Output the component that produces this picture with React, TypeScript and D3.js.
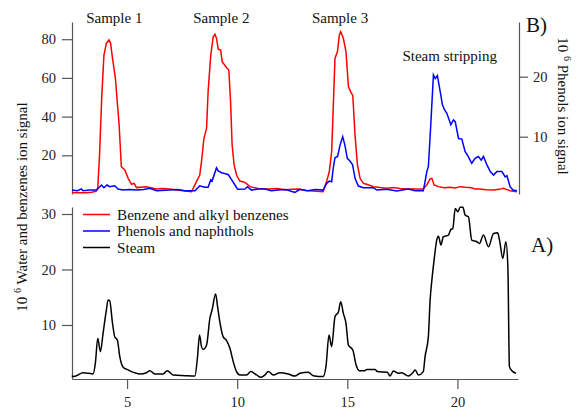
import * as d3 from "d3";
import { useEffect, useRef } from "react";

// [time, signal]
const benzenes: [number, number][] = [
  [2.5, 0.8], [2.8, 0.6], [3.1, 0.7], [3.4, 0.9], [3.6, 1.5], [3.67, 3], [3.75, 20], [3.85, 50],
  [3.95, 71.8], [4.06, 77.9], [4.18, 79.6], [4.25, 78], [4.34, 70.1], [4.47, 59.8], [4.64, 35.7],
  [4.74, 14.1], [4.9, 12.4], [5.05, 8.1], [5.2, 5.0], [5.32, 5.5], [5.43, 3.3], [5.88, 3.8],
  [6.34, 2.6], [6.6, 2.9], [6.94, 2.6], [7.25, 2.1], [7.55, 1.7], [7.93, 1.2], [8.15, 6.4], [8.3, 9.8],
  [8.38, 16.7], [8.49, 28.8], [8.61, 34], [8.68, 52.9], [8.8, 71.8], [8.91, 81.3], [8.99, 82.5],
  [9.06, 80.5], [9.14, 74.9], [9.25, 74.4], [9.32, 68.4], [9.52, 65.3], [9.62, 64.1], [9.7, 47.7],
  [9.77, 25.3], [9.86, 15], [9.97, 9.8], [10.12, 6.7], [10.35, 6], [10.58, 3.8], [10.95, 2.9],
  [11.41, 2.6], [11.8, 2.9], [12.17, 2.2], [12.5, 2.4], [12.77, 2.6], [13.1, 1.8], [13.45, 1.5], [13.9, 1.2],
  [14.06, 6.4], [14.18, 11.5], [14.29, 21.9], [14.36, 44.3], [14.44, 70.1], [14.55, 73.5],
  [14.64, 82.2], [14.7, 83.9], [14.82, 80.5], [14.94, 73.5], [15.05, 55.5], [15.15, 52.9],
  [15.25, 50.8], [15.35, 30.5], [15.46, 15], [15.58, 8.1], [15.73, 5.5], [15.88, 5], [16.18, 3.8],
  [16.49, 3.3], [16.8, 3.0], [17.09, 3.3], [17.4, 2.8], [17.7, 2.6], [18.08, 2.6], [18.45, 2.6], [18.61, 4.7],
  [18.76, 7.8], [18.84, 8.1], [18.94, 4.7], [19.14, 3.8], [19.4, 3.2], [19.67, 3.5], [19.9, 3.1], [20.12, 3.8],
  [20.35, 3.5], [20.58, 3.3], [20.8, 2.6], [21.03, 2.6], [21.3, 2.2], [21.64, 2.1], [21.9, 2.4], [22.09, 2.9],
  [22.39, 1.7], [22.7, 1.2],
];

const phenols: [number, number][] = [
  [2.5, 1.1], [2.75, 1.0], [2.93, 1.3], [3.0, 1.0], [3.3, 1.1], [3.61, 1.1], [3.84, 1.95],
  [3.95, 1.5], [4.09, 1.95], [4.21, 1.67], [4.44, 1.83], [4.59, 1.28], [4.82, 1.1], [5.1, 1.2],
  [5.43, 1.1], [5.75, 1.2], [6.03, 1.4], [6.34, 1.0], [6.94, 1.1], [7.3, 1.2], [7.62, 1.0],
  [8.08, 1.0], [8.3, 1.8], [8.53, 1.57], [8.68, 1.57], [8.8, 2.8], [8.86, 2.6], [9.06, 4.8],
  [9.14, 4.3], [9.29, 4.0], [9.59, 3.7], [9.75, 2.8], [9.9, 1.95], [10.02, 1.23], [10.35, 1.28],
  [10.47, 1.67], [10.65, 1.1], [10.95, 1.3], [11.26, 1.28], [11.55, 1.0], [11.86, 1.1],
  [12.2, 1.2], [12.62, 0.72], [12.85, 1.23], [13.2, 1.0], [13.55, 1.2], [13.9, 1.1], [14.06, 2.2],
  [14.18, 2.6], [14.29, 2.5], [14.36, 4.7], [14.44, 6.5], [14.56, 6.7], [14.67, 8.6], [14.79, 10],
  [14.89, 8.6], [15.0, 6.4], [15.12, 5.95], [15.24, 5.3], [15.35, 3.07], [15.5, 1.78],
  [15.73, 1.5], [16.18, 1.5], [16.34, 1.1], [16.79, 1.23], [17.25, 0.95], [17.5, 1.1],
  [17.77, 1.28], [18.08, 1.0], [18.45, 1.0], [18.53, 2.5], [18.61, 4.2], [18.68, 5], [18.79, 12],
  [18.91, 20.3], [18.99, 19.7], [19.09, 20.2], [19.18, 18.3], [19.32, 15.3], [19.41, 14.5],
  [19.52, 13.9], [19.7, 12], [19.82, 12.8], [19.9, 12.5], [20.05, 9.7], [20.2, 9.6], [20.35, 7.5],
  [20.45, 6.95], [20.65, 5.57], [20.8, 6.4], [20.95, 6.7], [21.08, 6.1], [21.18, 6.7],
  [21.34, 5.3], [21.49, 4.2], [21.64, 3.6], [21.79, 4.2], [22.02, 4.2], [22.17, 3.3],
  [22.25, 3.5], [22.39, 1.67], [22.52, 1.1], [22.7, 1.0],
];

const steam: [number, number][] = [
  [2.5, 0.9], [2.55, 0.7], [2.7, 0.87], [3.0, 1.4], [3.25, 1.3], [3.45, 1.17], [3.56, 3.1],
  [3.67, 7.6], [3.79, 5.2], [3.91, 8.5], [4.06, 12.7], [4.14, 14.5], [4.21, 14.4], [4.34, 10.3],
  [4.44, 7.9], [4.56, 7.3], [4.67, 4.3], [4.82, 2.4], [5.05, 1.9], [5.2, 1.6], [5.35, 1.4],
  [5.58, 1.17], [5.88, 1.4], [6.03, 1.77], [6.26, 1.17], [6.64, 1.17], [6.82, 1.77], [7.09, 1.0],
  [7.62, 0.87], [8.08, 0.8], [8.2, 4.3], [8.29, 8.2], [8.38, 6.1], [8.45, 5.6], [8.61, 6.4],
  [8.76, 11.2], [8.86, 12.7], [9.02, 15.6], [9.11, 13.3], [9.21, 10.6], [9.36, 7.9], [9.52, 7.2],
  [9.67, 5.8], [9.82, 3.4], [9.97, 1.6], [10.12, 1.0], [10.43, 1.0], [10.62, 1.6], [10.88, 1.0],
  [11.08, 0.58], [11.26, 1.0], [11.41, 1.6], [11.64, 1.0], [11.94, 1.4], [12.32, 1.17],
  [12.62, 0.8], [12.85, 1.3], [13.23, 1.5], [13.45, 0.87], [13.9, 0.7], [14.03, 2.5], [14.17, 8.2],
  [14.29, 6.1], [14.44, 11.5], [14.6, 12.4], [14.7, 14.2], [14.82, 12.1], [14.94, 10.3],
  [15.05, 6.4], [15.25, 5.5], [15.4, 2.8], [15.55, 1.77], [15.8, 1.77], [15.88, 2.0], [16.26, 2.0],
  [16.36, 1.6], [16.82, 1.5], [16.94, 0.8], [17.09, 1.7], [17.32, 1.3], [17.47, 1.4], [17.77, 0.8],
  [17.95, 1.3], [18.08, 1.9], [18.23, 1.0], [18.45, 1.6], [18.53, 4.3], [18.68, 7.9], [18.76, 14.5],
  [18.84, 18.1], [18.94, 21.7], [19.06, 25.3], [19.14, 26], [19.25, 24.4], [19.36, 25.9],
  [19.59, 26.2], [19.7, 27.2], [19.79, 27.4], [19.9, 31], [20.02, 30.4], [20.12, 31.2],
  [20.25, 31.2], [20.35, 29.8], [20.5, 29.5], [20.65, 25.3], [20.88, 25], [21.0, 24.7],
  [21.18, 26.2], [21.41, 24.1], [21.64, 26.5], [21.82, 26.6], [21.91, 25.3], [22.06, 22],
  [22.2, 25], [22.29, 20.5], [22.36, 2.5], [22.47, 1.77], [22.66, 1.3],
];

const xTicks = [5, 10, 15, 20];
const benzeneTicks = [20, 40, 60, 80];
const phenolTicks = [10, 20];
const steamTicks = [10, 20, 30];

const sampleLabels = [
  { name: "Sample 1", at: 4.42 },
  { name: "Sample 2", at: 9.28 },
  { name: "Sample 3", at: 14.67 },
];

const legendItems = [
  { name: "Benzene and alkyl benzenes", color: "#ff0000" },
  { name: "Phenols and naphthols", color: "#0000ff" },
  { name: "Steam", color: "#000000" },
];

const W = 578;
const H = 411;
const FONT = "Liberation Serif, Times New Roman, serif";

export default function App() {
  const svgRef = useRef<SVGSVGElement | null>(null);

  useEffect(() => {
    const svgEl = d3.select(svgRef.current);
    svgEl.selectAll("*").remove();
    const svg = svgEl.append("g").style("font-family", FONT);

    const x = d3.scaleLinear().domain([2.5, 22.75]).range([72, 518]);
    // top panel (B)
    const yB = d3.scaleLinear().domain([0, 88.9]).range([194, 22]);
    const yP = d3.scaleLinear().domain([0.45, 29.12]).range([194, 22]);
    // bottom panel (A)
    const yA = d3.scaleLinear().domain([0.27, 31.26]).range([379, 207]);

    const styleAxis = (g: any) => {
      g.attr("font-family", null).style("font-family", FONT);
      g.selectAll("path, line").attr("stroke", "#555").attr("stroke-width", 1.2);
      g.selectAll("text")
        .style("font-family", FONT)
        .attr("font-size", 14.5)
        .attr("fill", "#222");
    };

    // left axis top
    svg.append("g")
      .attr("transform", "translate(72,0)")
      .call(d3.axisLeft(yB).tickValues(benzeneTicks).tickSize(10).tickPadding(6).tickSizeOuter(0))
      .call(styleAxis);

    // right axis top
    svg.append("g")
      .attr("transform", "translate(519,0)")
      .call(d3.axisRight(yP).tickValues(phenolTicks).tickSize(9).tickPadding(5).tickSizeOuter(0))
      .call(styleAxis);

    // left axis bottom
    svg.append("g")
      .attr("transform", "translate(72,0)")
      .call(d3.axisLeft(yA).tickValues(steamTicks).tickSize(10).tickPadding(6).tickSizeOuter(0))
      .call(styleAxis);

    // x axis
    svg.append("g")
      .attr("transform", "translate(0,379)")
      .call(d3.axisBottom(x).tickValues(xTicks).tickFormat(d3.format("d")).tickSize(10).tickPadding(8).tickSizeOuter(0))
      .call(styleAxis);

    const lineB = d3.line<[number, number]>().x((d) => x(d[0])).y((d) => yB(d[1]));
    const lineP = d3.line<[number, number]>().x((d) => x(d[0])).y((d) => yP(d[1]));
    const lineA = d3.line<[number, number]>()
      .x((d) => x(d[0]))
      .y((d) => yA(d[1]))
      .curve(d3.curveMonotoneX);

    svg.append("path").datum(benzenes).attr("d", lineB)
      .attr("fill", "none").attr("stroke", "#ff0000").attr("stroke-width", 1.5);
    svg.append("path").datum(phenols).attr("d", lineP)
      .attr("fill", "none").attr("stroke", "#0000ff").attr("stroke-width", 1.5);
    svg.append("path").datum(steam).attr("d", lineA)
      .attr("fill", "none").attr("stroke", "#000").attr("stroke-width", 1.5);

    // sample labels
    svg.selectAll(".sample")
      .data(sampleLabels)
      .enter()
      .append("text")
      .attr("x", (d) => x(d.at))
      .attr("y", 23)
      .attr("text-anchor", "middle")
      .attr("font-size", 15)
      .attr("fill", "#111")
      .text((d) => d.name);

    svg.append("text")
      .attr("x", x(19.65))
      .attr("y", 61)
      .attr("text-anchor", "middle")
      .attr("font-size", 15)
      .attr("fill", "#111")
      .text("Steam stripping");

    svg.append("text").attr("x", 526).attr("y", 32).attr("font-size", 21).attr("fill", "#111").text("B)");
    svg.append("text").attr("x", 531).attr("y", 252).attr("font-size", 21).attr("fill", "#111").text("A)");

    // legend
    const leg = svg.append("g");
    legendItems.forEach((d, i) => {
      const yy = 214.5 + i * 16.5;
      leg.append("line")
        .attr("x1", 83).attr("x2", 110).attr("y1", yy).attr("y2", yy)
        .attr("stroke", d.color).attr("stroke-width", 1.5);
      leg.append("text")
        .attr("x", 117).attr("y", yy + 5)
        .attr("font-size", 15.2).attr("fill", "#111")
        .text(d.name);
    });

    // axis titles
    const leftTitle = svg.append("text")
      .attr("transform", "translate(27,207) rotate(-90)")
      .attr("text-anchor", "middle")
      .attr("font-size", 15)
      .attr("fill", "#111");
    leftTitle.append("tspan").text("10 ");
    leftTitle.append("tspan").attr("dy", -6).attr("font-size", 10).text("6");
    leftTitle.append("tspan").attr("dy", 6).text(" Water and benzenes ion signal");

    const rightTitle = svg.append("text")
      .attr("transform", "translate(558,106) rotate(90)")
      .attr("text-anchor", "middle")
      .attr("font-size", 15)
      .attr("fill", "#111");
    rightTitle.append("tspan").text("10 ");
    rightTitle.append("tspan").attr("dy", -6).attr("font-size", 10).text("6");
    rightTitle.append("tspan").attr("dy", 6).text(" Phenols ion signal");
  }, []);

  return (
    <svg
      ref={svgRef}
      width={W}
      height={H}
      style={{ position: "absolute", left: 0, top: 0, background: "#fff", fontFamily: FONT }}
    />
  );
}
